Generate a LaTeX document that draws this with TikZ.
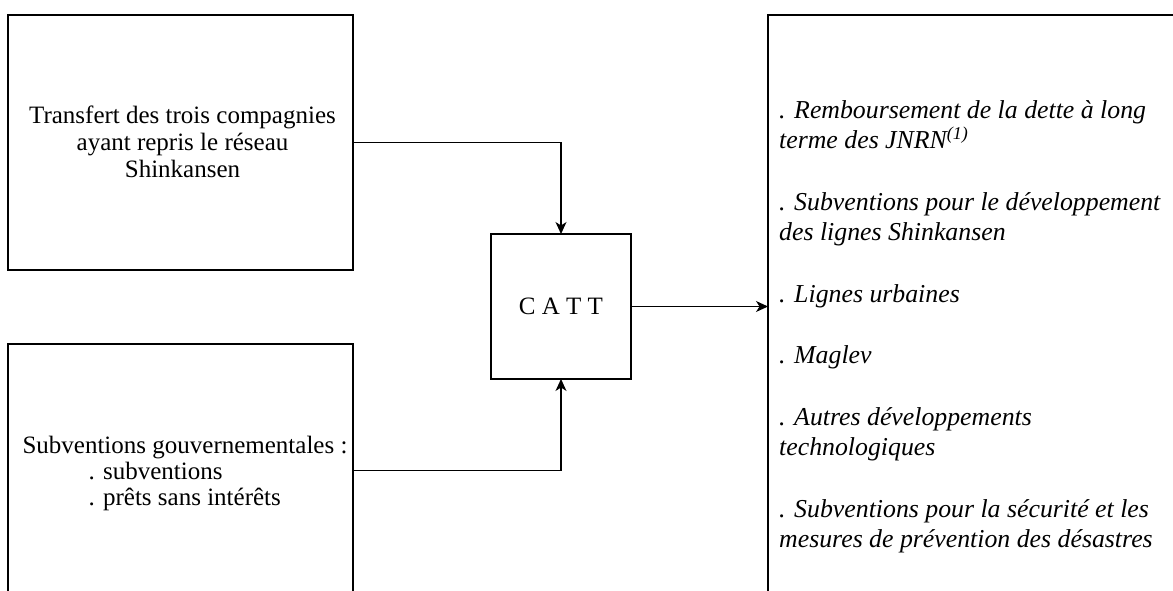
\documentclass[tikz,border=0pt]{standalone}
\usepackage{fontspec}
\setmainfont{Liberation Serif}
\usetikzlibrary{arrows.meta}
\begin{document}
\begin{tikzpicture}[x=1pt,y=-1pt,
  box/.style={draw, line width=1.1pt, inner sep=0pt, outer sep=0pt, anchor=north west},
  conn/.style={line width=1.1pt, -{Stealth[length=12pt,width=11pt,inset=3.5pt]}},
  lbl/.style={font=\fontsize{25}{27}\selectfont, align=center, inner sep=0pt},
  lbll/.style={font=\fontsize{25}{26}\selectfont, align=left, inner sep=0pt},
  itl/.style={font=\fontsize{25.8}{30.7}\selectfont\itshape, align=left, inner sep=0pt, anchor=north west}]
\useasboundingbox (0,0) rectangle (1173,591);
\clip (0,0) rectangle (1173,591);
% boxes
\node[box, minimum width=345pt, minimum height=255pt] (tl) at (8,15) {};
\node[box, minimum width=345pt, minimum height=253pt] (bl) at (8,344) {};
\node[box, minimum width=140pt, minimum height=145pt] (catt) at (491,234) {};
\node[box, minimum width=450pt, minimum height=620pt] (rb) at (768,15) {};
% texts
\node[lbl] (tltext) at ([xshift=2pt,yshift=1pt]tl.center)
  {Transfert des trois compagnies\\ayant repris le réseau\\Shinkansen};
\node[lbll] (bltext) at ([xshift=4.5pt,yshift=-3pt]bl.center)
  {Subventions gouvernementales :\\\hspace*{66pt}. subventions\\\hspace*{66pt}. prêts sans intérêts};
\node[lbl] (catttext) at (catt.center) {C A T T};
\node[itl] (rbtext) at (779,100)
  {. Remboursement de la dette à long\\terme des JNRN\textsuperscript{(1)}\\[30.7pt]
   . Subventions pour le développement\\des lignes Shinkansen\\[30.7pt]
   . Lignes urbaines\\[30.7pt]
   . Maglev\\[30.7pt]
   . Autres développements\\technologiques\\[30.7pt]
   . Subventions pour la sécurité et les\\mesures de prévention des désastres};
% connectors
\draw[conn] (tl.east) -| (catt.north);
\draw[conn] (bl.east) -| (catt.south);
\draw[conn] (catt.east) -- (catt.east -| rb.west);
\end{tikzpicture}
\end{document}
